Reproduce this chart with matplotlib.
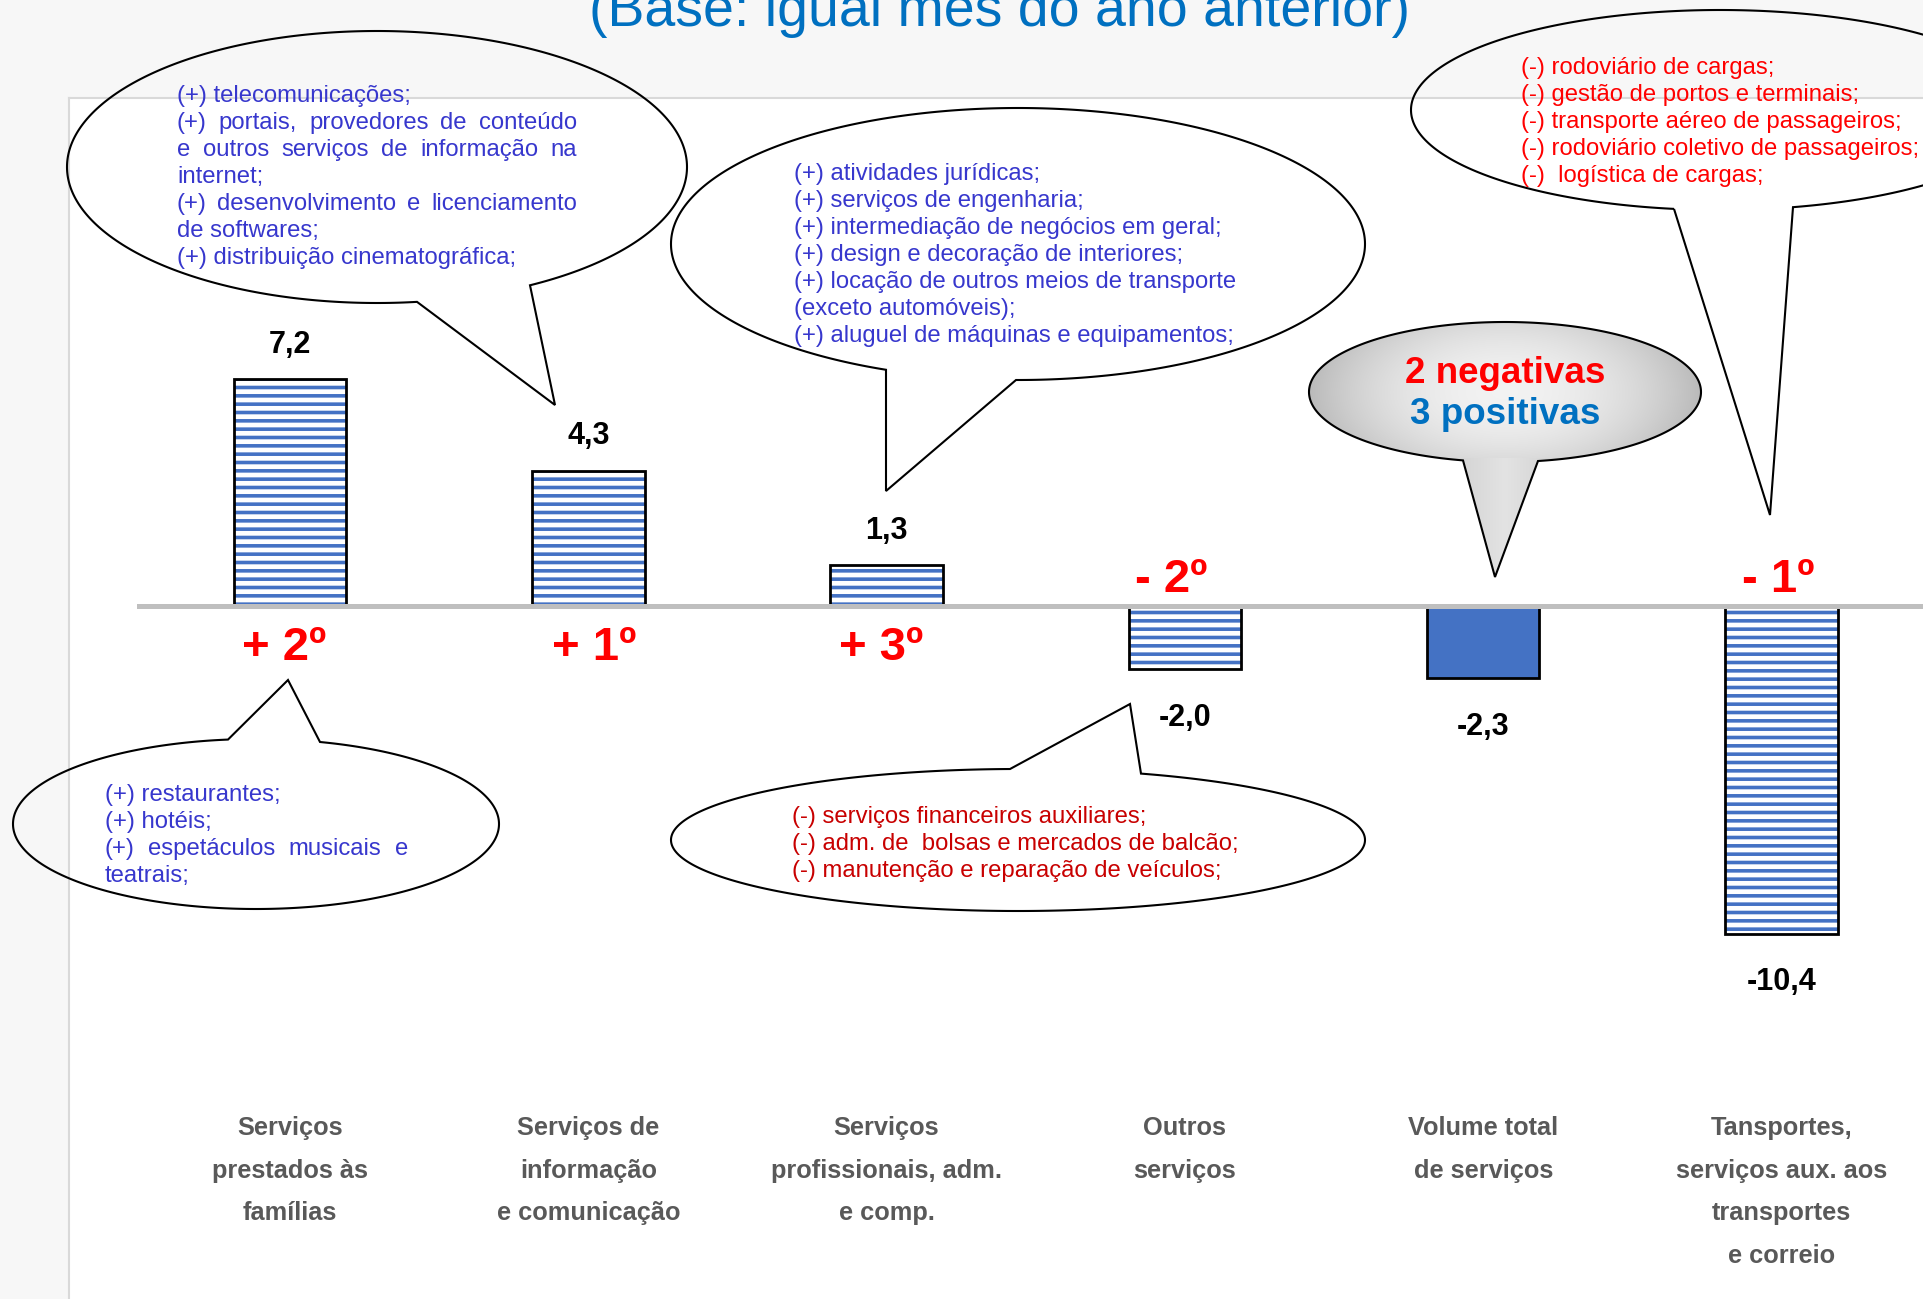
import numpy as np
import matplotlib
matplotlib.use('Agg')
import matplotlib.pyplot as plt
from matplotlib.patches import PathPatch
from matplotlib.path import Path
from matplotlib import transforms

# dados (variação % sobre igual mês do ano anterior)
categories = [
    ['Serviços', 'prestados às', 'famílias'],
    ['Serviços de', 'informação', 'e comunicação'],
    ['Serviços', 'profissionais, adm.', 'e comp.'],
    ['Outros', 'serviços'],
    ['Volume total', 'de serviços'],
    ['Tansportes,', 'serviços aux. aos', 'transportes', 'e correio'],
]
values = [7.2, 4.3, 1.3, -2.0, -2.3, -10.4]
value_labels = ['7,2', '4,3', '1,3', '-2,0', '-2,3', '-10,4']
ranks = ['+ 2º', '+ 1º', '+ 3º', '- 2º', '', '- 1º']
total_idx = 4

title = '(Base: igual mês do ano anterior)'
summary = ['2 negativas', '3 positivas']

# (texto, justificado)
note_familias = [('(+) restaurantes;', False), ('(+) hotéis;', False),
                 ('(+) espetáculos musicais e', True), ('teatrais;', False)]
note_informacao = [('(+) telecomunicações;', False),
                   ('(+) portais, provedores de conteúdo', True),
                   ('e outros serviços de informação na', True),
                   ('internet;', False),
                   ('(+) desenvolvimento e licenciamento', True),
                   ('de softwares;', False),
                   ('(+) distribuição cinematográfica;', False)]
note_profissionais = ['(+) atividades jurídicas;',
                      '(+) serviços de engenharia;',
                      '(+) intermediação de negócios em geral;',
                      '(+) design e decoração de interiores;',
                      '(+) locação de outros meios de transporte',
                      '(exceto automóveis);',
                      '(+) aluguel de máquinas e equipamentos;']
note_outros = ['(-) serviços financeiros auxiliares;',
               '(-) adm. de  bolsas e mercados de balcão;',
               '(-) manutenção e reparação de veículos;']
note_transportes = ['(-) rodoviário de cargas;',
                    '(-) gestão de portos e terminais;',
                    '(-) transporte aéreo de passageiros;',
                    '(-) rodoviário coletivo de passageiros;',
                    '(-)  logística de cargas;']

SANS = ['Liberation Sans', 'DejaVu Sans']
BAR_BLUE = '#4472C4'
NOTE_BLUE = '#3737CD'

plt.rcParams['hatch.linewidth'] = 2.6

W, H = 1924, 1299
fig = plt.figure(figsize=(W / 100, H / 100), dpi=100, facecolor='#F7F7F7')

# área do gráfico (pixels: x de 69, y de 98 para baixo)
ax = fig.add_axes([69 / W, 0, (W - 69) / W, (H - 98) / H], facecolor='white')
px_unit_x, px_unit_y = 298.3, 31.5
ax.set_xlim((69 - 290) / px_unit_x, (W - 290) / px_unit_x)
ax.set_ylim(-(H - 606) / px_unit_y, (606 - 98) / px_unit_y)
ax.set_xticks([])
ax.set_yticks([])
for s in ['right', 'bottom']:
    ax.spines[s].set_visible(False)
for s in ['top', 'left']:
    ax.spines[s].set_color('#D9D9D9')
    ax.spines[s].set_linewidth(1.5)

x = np.arange(len(values))
hatched = [i for i in x if i != total_idx]
ax.bar(x[hatched], np.array(values)[hatched], width=0.377, color='white',
       edgecolor=BAR_BLUE, hatch='--', linewidth=0, zorder=2)
ax.bar(x[total_idx], values[total_idx], width=0.377, color=BAR_BLUE,
       linewidth=0, zorder=2)
ax.bar(x, values, width=0.377, fill=False, edgecolor='black', linewidth=2, zorder=3)
ax.axhline(0, xmin=70 / (W - 69), color='#BFBFBF', linewidth=3.6, zorder=4)

rank_dx = [-0.02, 0.02, -0.02, -0.045, 0, -0.01]
for i, (v, lab) in enumerate(zip(values, value_labels)):
    y = v + 0.84 if v > 0 else v - 1.8
    ax.text(i, y, lab, ha='center', va='baseline', fontsize=22,
            fontweight='bold', family=SANS, color='black')
    if ranks[i]:
        ax.text(i + rank_dx[i], -1.72 if v > 0 else 0.44, ranks[i], ha='center',
                va='baseline', fontsize=34, fontweight='bold', family=SANS,
                color='#FF0000')

# camada de anotações em pixels
deco = fig.add_axes([0, 0, 1, 1], facecolor='none')
deco.set_xlim(0, W)
deco.set_ylim(H, 0)
deco.axis('off')

blend = transforms.blended_transform_factory(ax.transData, deco.transData)
for i, lines in enumerate(categories):
    for k, line in enumerate(lines):
        ax.text(i, 1135 + 42.7 * k, line, transform=blend, ha='center',
                va='baseline', fontsize=18.3, fontweight='bold', family=SANS,
                color='#595959')

deco.text(1000, 26, title, ha='center', va='baseline', fontsize=40,
          color='#0070C0', family=SANS)


def bubble(cx, cy, a, b, xs, side, tip, **kw):
    sgn = 1 if side == 'bottom' else -1
    t0, t1 = [sgn * np.arccos((xx - cx) / a) for xx in xs]
    d = (t0 - t1) % (2 * np.pi)
    if d < np.pi:
        t0, t1 = t1, t0
        d = 2 * np.pi - d
    ts = t1 + np.linspace(0, d, 400)
    pts = np.column_stack([cx + a * np.cos(ts), cy + b * np.sin(ts)])
    verts = np.vstack([pts, tip, pts[:1]])
    patch = PathPatch(Path(verts, closed=True), linewidth=1.5,
                      edgecolor='black', joinstyle='miter', **kw)
    deco.add_patch(patch)
    return patch


renderer = fig.canvas.get_renderer()


def note(lines, x0, y0, color, x1=None, step=27):
    for k, item in enumerate(lines):
        txt, just = item if isinstance(item, tuple) else (item, False)
        y = y0 + step * k
        kw = dict(va='baseline', ha='left', fontsize=17.2, family=SANS, color=color)
        if not just:
            deco.text(x0, y, txt, **kw)
            continue
        words = txt.split()
        objs = [deco.text(0, y, w, **kw) for w in words]
        widths = [o.get_window_extent(renderer).width for o in objs]
        gap = (x1 - x0 - sum(widths)) / (len(words) - 1)
        xx = x0
        for o, wd in zip(objs, widths):
            o.set_x(xx)
            xx += wd + gap


bubble(377, 167, 310, 136, (417, 530), 'bottom', (555, 405), facecolor='none')
note(note_informacao, 177, 101.5, NOTE_BLUE, x1=577)

bubble(1018, 244, 347, 136, (886, 1016), 'bottom', (886, 491), facecolor='none')
note(note_profissionais, 794, 179.5, NOTE_BLUE)

bubble(256, 824, 243, 85, (228, 320), 'top', (288, 680), facecolor='none')
note(note_familias, 105, 800.5, NOTE_BLUE, x1=408)

bubble(1018, 840, 347, 71, (1010, 1141), 'top', (1130, 704), facecolor='none')
note(note_outros, 792, 822.5, '#C80000')

bubble(1720, 110, 309, 100, (1674, 1793), 'bottom', (1770, 515), facecolor='none')
note(note_transportes, 1521, 73.5, '#FF0000')

# balão cinza com degradê
gcx, gcy, ga, gb = 1505, 392, 196, 70
gp = bubble(gcx, gcy, ga, gb, (1463, 1538), 'bottom', (1495, 577), facecolor='none')
gx0, gx1, gy0, gy1 = 1305, 1705, 318, 582
GX, GY = np.meshgrid(np.linspace(gx0, gx1, 400), np.linspace(gy0, gy1, 264))
rx = (GX - gcx) / ga
r = np.sqrt(rx ** 2 + ((GY - gcy) / (gb * 1.5)) ** 2)
val = 0.95 - 0.22 * np.clip(r, 0, 1) ** 2
val = np.where(GY > gcy + gb * 0.95, 0.89 - 0.25 * np.abs(rx), val)
img = deco.imshow(np.dstack([val, val, val]), extent=(gx0, gx1, gy1, gy0),
                  aspect='auto', interpolation='bilinear', zorder=0.5)
img.set_clip_path(gp)
deco.set_xlim(0, W)
deco.set_ylim(H, 0)

deco.text(gcx, 383, summary[0], ha='center', va='baseline', fontsize=26.5,
          fontweight='bold', family=SANS, color='#FF0000')
deco.text(gcx, 424, summary[1], ha='center', va='baseline', fontsize=26.5,
          fontweight='bold', family=SANS, color='#0070C0')

fig.savefig('out.png', dpi=100, facecolor=fig.get_facecolor())
